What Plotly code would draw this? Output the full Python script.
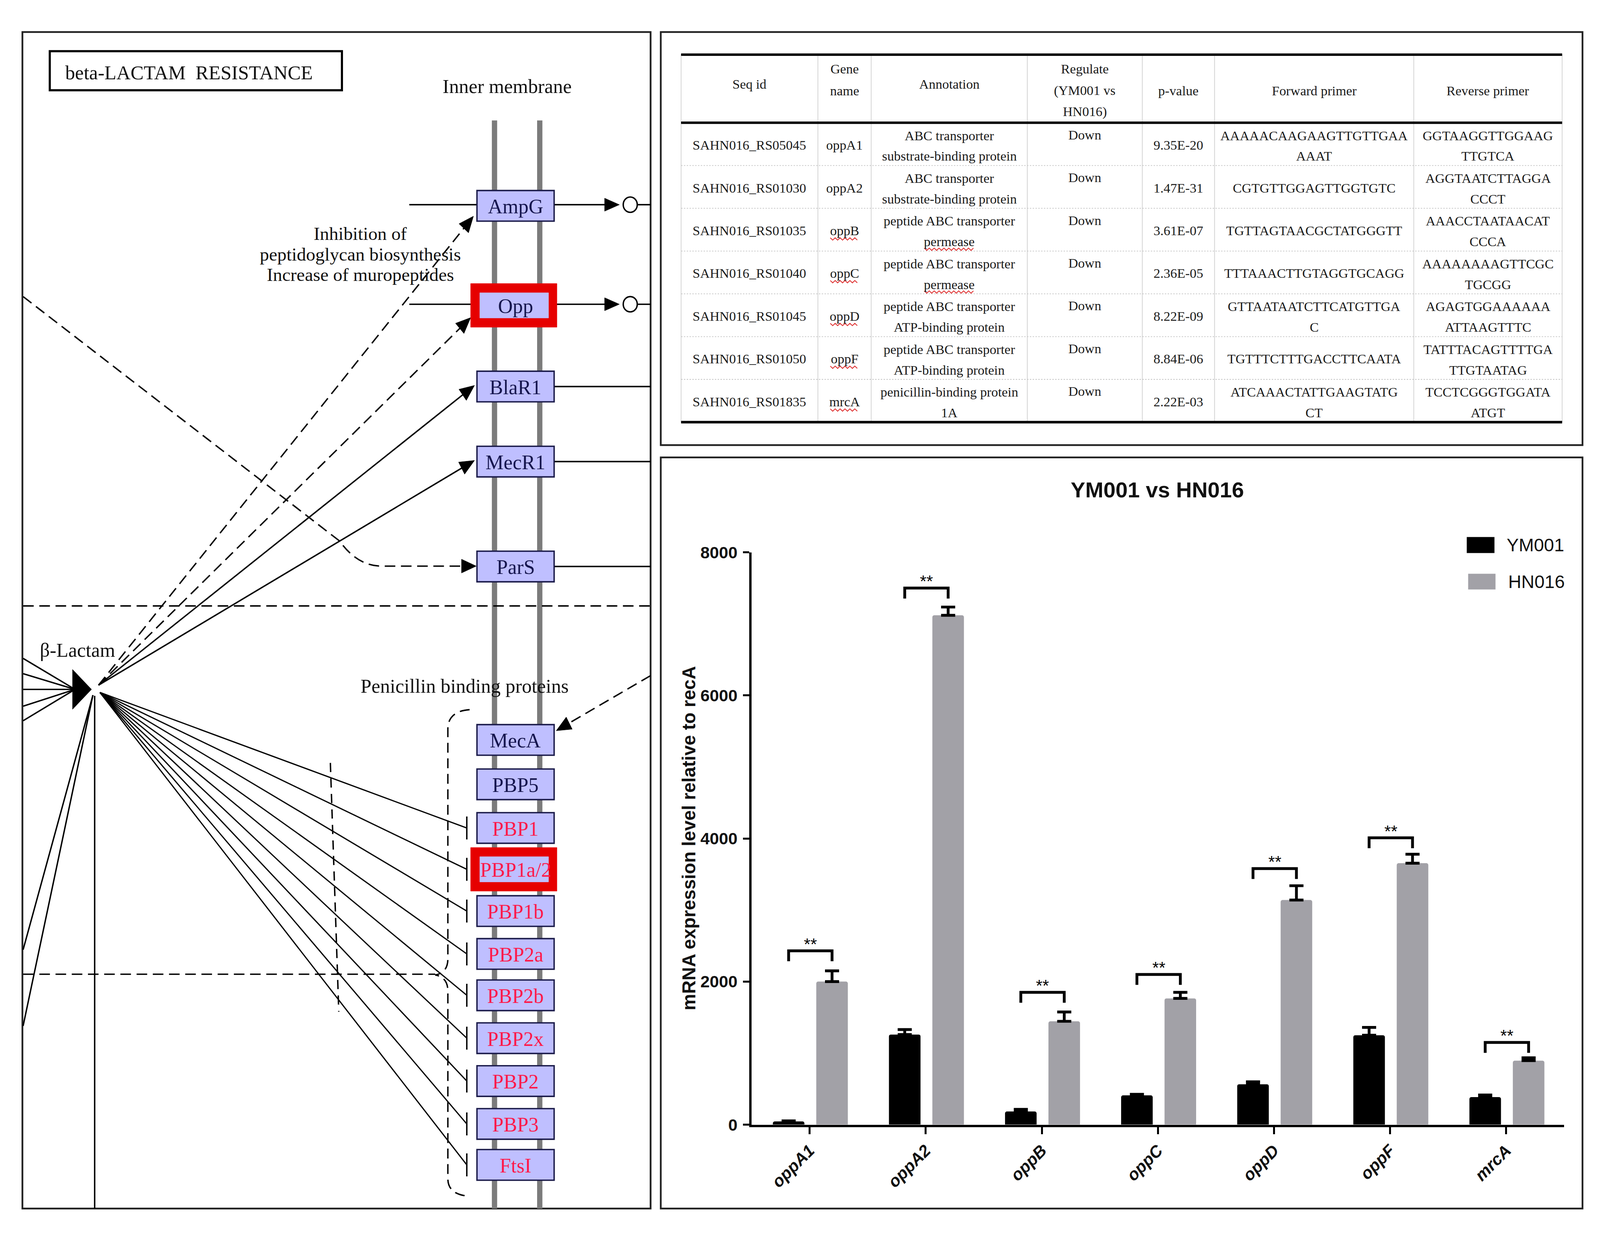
import math
import plotly.graph_objects as go

# reference pixel space (all geometry below is expressed in it)
W, H = 4544, 3184
# the figure fills the photographed viewport (about 4100 CSS px wide);
# line widths and text sizes are scaled to it
S = 4099 / W
ST = 0.93

# ---------------- bar chart data ----------------
genes = ["oppA1", "oppA2", "oppB", "oppC", "oppD", "oppF", "mrcA"]
ym001 = [45, 1260, 185, 410, 565, 1250, 385]
ym001_err = [8, 70, 30, 15, 35, 110, 30]
hn016 = [2000, 7120, 1445, 1765, 3140, 3655, 895]
hn016_err = [150, 115, 130, 85, 200, 125, 40]
sig_y = [2430, 7500, 1850, 2100, 3580, 4010, 1150]
sig_text = ["**", "**", "**", "**", "**", "**", "**"]
y_ticks = [0, 2000, 4000, 6000, 8000]
chart_title = "YM001 vs HN016"
y_title = "mRNA expression level relative to recA"
series_names = ["YM001", "HN016"]

# ---------------- table data ----------------
table_header = [["Seq id"], ["Gene", "name"], ["Annotation"],
                ["Regulate", "(YM001 vs", "HN016)"], ["p-value"],
                ["Forward primer"], ["Reverse primer"]]
seq_ids = ["SAHN016_RS05045", "SAHN016_RS01030", "SAHN016_RS01035",
           "SAHN016_RS01040", "SAHN016_RS01045", "SAHN016_RS01050",
           "SAHN016_RS01835"]
gene_names = ["oppA1", "oppA2", "oppB", "oppC", "oppD", "oppF", "mrcA"]
annotation_txt = [["ABC transporter", "substrate-binding protein"],
                  ["ABC transporter", "substrate-binding protein"],
                  ["peptide ABC transporter", "permease"],
                  ["peptide ABC transporter", "permease"],
                  ["peptide ABC transporter", "ATP-binding protein"],
                  ["peptide ABC transporter", "ATP-binding protein"],
                  ["penicillin-binding protein", "1A"]]
regulate = ["Down"] * 7
p_values = ["9.35E-20", "1.47E-31", "3.61E-07", "2.36E-05", "8.22E-09",
            "8.84E-06", "2.22E-03"]
fwd_primer = [["AAAAACAAGAAGTTGTTGAA", "AAAT"], ["CGTGTTGGAGTTGGTGTC"],
              ["TGTTAGTAACGCTATGGGTT"], ["TTTAAACTTGTAGGTGCAGG"],
              ["GTTAATAATCTTCATGTTGA", "C"], ["TGTTTCTTTGACCTTCAATA"],
              ["ATCAAACTATTGAAGTATG", "CT"]]
rev_primer = [["GGTAAGGTTGGAAG", "TTGTCA"], ["AGGTAATCTTAGGA", "CCCT"],
              ["AAACCTAATAACAT", "CCCA"], ["AAAAAAAAGTTCGC", "TGCGG"],
              ["AGAGTGGAAAAAA", "ATTAAGTTTC"], ["TATTTACAGTTTTGA", "TTGTAATAG"],
              ["TCCTCGGGTGGATA", "ATGT"]]
spell_flag_gene = [False, False, True, True, True, True, True]
spell_flag_annot = [False, False, True, True, False, False, False]

# ---------------- KEGG pathway labels ----------------
map_title = "beta-LACTAM  RESISTANCE"
membrane_label = "Inner membrane"
upper_nodes = ["AmpG", "Opp", "BlaR1", "MecR1", "ParS"]
pbp_nodes = ["MecA", "PBP5", "PBP1", "PBP1a/2", "PBP1b", "PBP2a", "PBP2b",
             "PBP2x", "PBP2", "PBP3", "FtsI"]
pbp_red = [False, False, True, True, True, True, True, True, True, True, True]
highlighted = ["Opp", "PBP1a/2"]
effect_lines = ["Inhibition of", "peptidoglycan biosynthesis",
                "Increase of muropeptides"]
compound = "\u03b2-Lactam"
pbp_group = "Penicillin binding proteins"

# ---------------- helpers (coordinates in reference pixels) ----------------
SERIF = "Liberation Serif"
SANS = "Liberation Sans"
shapes = []
annos = []


def px(v):
    return v * S


def pxd(a, b):
    return f"{a * S:.1f}px,{b * S:.1f}px"


def line(x0, y0, x1, y1, w=4, color="black", dash=None):
    d = dict(type="line", xref="x", yref="y", x0=x0, y0=y0, x1=x1, y1=y1,
             line=dict(color=color, width=px(w)))
    if dash:
        d["line"]["dash"] = dash
    shapes.append(d)


def rect(x0, y0, x1, y1, fill="rgba(0,0,0,0)", lc="black", lw=4):
    shapes.append(dict(type="rect", xref="x", yref="y", x0=x0, y0=y0, x1=x1,
                       y1=y1, fillcolor=fill, line=dict(color=lc, width=px(lw))))


def path(p, w=4, color="black", dash=None, fill=None, xref="x", yref="y"):
    d = dict(type="path", xref=xref, yref=yref, path=p,
             line=dict(color=color, width=px(w)))
    if dash:
        d["line"]["dash"] = dash
    if fill:
        d["fillcolor"] = fill
    shapes.append(d)


def circle(cx, cy, r, w=4):
    shapes.append(dict(type="circle", xref="x", yref="y", x0=cx - r, y0=cy - r,
                       x1=cx + r, y1=cy + r, fillcolor="white",
                       line=dict(color="black", width=px(w))))


def text(x, y, s, size, color="#111111", family=SERIF, xanchor="center",
         angle=0, weight="normal", style="normal", xref="x", yref="y",
         yanchor="middle", yshift=0):
    annos.append(dict(x=x, y=y, xref=xref, yref=yref, text=s, showarrow=False,
                      xanchor=xanchor, yanchor=yanchor, textangle=angle,
                      yshift=px(yshift), borderpad=0,
                      font=dict(size=size * ST, color=color, family=family,
                                weight=weight, style=style)))


def arrowhead(tx, ty, fx, fy, L=42, hw=18):
    dx, dy = tx - fx, ty - fy
    n = math.hypot(dx, dy)
    ux, uy = dx / n, dy / n
    bx, by = tx - ux * L, ty - uy * L
    qx, qy = -uy * hw, ux * hw
    path(f"M {tx:.1f},{ty:.1f} L {bx + qx:.1f},{by + qy:.1f} "
         f"L {bx - qx:.1f},{by - qy:.1f} Z", w=1, fill="black")


def zigzag(x0, x1, y, amp=3, step=7):
    pts = []
    x = x0
    up = True
    while x <= x1:
        pts.append((x, y - amp if up else y + amp))
        x += step
        up = not up
    path("M " + " L ".join(f"{a:.1f},{b:.1f}" for a, b in pts), w=2.5,
         color="#e03a3a")


DASH = pxd(30, 16)

# ---------------- panel borders ----------------
rect(55, 51, 1846, 3124, lc="#222222", lw=5)
rect(1875, 51, 4503, 1130, lc="#222222", lw=5)
rect(1875, 1162, 4503, 3124, lc="#222222", lw=5)

# ---------------- KEGG diagram ----------------
rect(133, 101, 966, 203, lc="black", lw=6)
text(530, 157, map_title, 54)
text(1437, 193, membrane_label, 54)

for mx in (1401, 1530):
    line(mx, 282, mx, 3124, w=15, color="#7b7b7b")

BX0, BX1, BH = 1351, 1571, 80
upper_y = [505, 765, 977, 1173, 1447]
pbp_y = [1900, 2016, 2130, 2238, 2347, 2459, 2567, 2679, 2791, 2903, 3010]

# beta-lactam node
for yy in (1687, 1727, 1768, 1812, 1850):
    line(57, yy, 205, 1768, w=4)
path("M 198,1716 L 252,1768 L 198,1820 Z", w=1, fill="black")
line(57, 2448, 256, 1783, w=4)
line(57, 2647, 256, 1783, w=4)
line(261, 1785, 261, 3124, w=4)
text(212, 1665, compound, 54)

# horizontal dashed lines
line(57, 1550, 1846, 1550, w=4, dash=DASH)
line(57, 2512, 1232, 2512, w=4, dash=DASH)

# dashed line to ParS
path("M 57,742 L 960,1381 Q 1010,1446 1080,1446 L 1310,1446", w=4, dash=DASH)
arrowhead(1349, 1446, 1200, 1446)

# lines from beta-lactam to receptors
tips = {"AmpG": (1341, 532, DASH), "Opp": (1333, 797, DASH),
        "BlaR1": (1344, 974, None), "MecR1": (1344, 1170, None)}
sx, sy = 272, 1757
for nm in ["AmpG", "Opp", "BlaR1", "MecR1"]:
    tx, ty, ds = tips[nm]
    dx, dy = tx - sx, ty - sy
    n = math.hypot(dx, dy)
    ex, ey = tx - dx / n * 38, ty - dy / n * 38
    line(sx, sy, ex, ey, w=4, dash=ds)
    arrowhead(tx, ty, sx, sy)

# receptor side lines
for nm, yy in zip(upper_nodes, upper_y):
    if nm in ("AmpG", "Opp"):
        line(1158, yy - 3, BX0, yy - 3, w=4)
        line(BX1, yy - 3, 1718, yy - 3, w=4)
        arrowhead(1757, yy - 3, 1600, yy - 3, L=42, hw=17)
        circle(1788, yy - 3, 20, w=4)
        line(1809, yy - 3, 1846, yy - 3, w=4)
    else:
        line(BX1, yy, 1846, yy, w=4)

# inhibition lines to PBPs
for nm, yy in zip(pbp_nodes, pbp_y):
    if nm in ("MecA", "PBP5"):
        continue
    line(276, 1776, 1322, yy, w=3.5)
    line(1322, yy - 30, 1322, yy + 30, w=4)

# crossing dashed line
line(933, 1960, 957, 2610, w=4, dash=pxd(26, 18))

# brace
path("M 1330,1821 Q 1268,1825 1268,1872 L 1268,2472 Q 1268,2508 1232,2514 "
     "Q 1268,2520 1268,2556 L 1268,3046 Q 1268,3088 1330,3092",
     w=4, dash=pxd(28, 16))

# dashed arrow to MecA
line(1846, 1732, 1612, 1857, w=4, dash=DASH)
arrowhead(1577, 1876, 1846, 1732)

text(1316, 1759, pbp_group, 54)
for s, yy in zip(effect_lines, [578, 632, 685]):
    text(1018, yy, s, 51)


def node(nm, yc, red_text=False):
    if nm in highlighted:
        rect(1333, yc - 57, 1579, yc + 57, fill="#e60000", lc="#e60000", lw=1)
        rect(1359, yc - 33, 1555, yc + 33, fill="#bfbfff", lc="#bfbfff", lw=1)
    else:
        rect(BX0, yc - BH / 2, BX1, yc + BH / 2, fill="#bfbfff", lc="#1b1b4a",
             lw=4)
    text((BX0 + BX1) / 2, yc + 2, nm, 56,
         color="#ff1a4a" if red_text else "#16164e")


for nm, yy in zip(upper_nodes, upper_y):
    node(nm, yy)
for nm, yy, rd in zip(pbp_nodes, pbp_y, pbp_red):
    node(nm, yy, rd)

# ---------------- table ----------------
col_x = [1933, 2323, 2475, 2920, 3248, 3454, 4022, 4445]
col_c = [(col_x[i] + col_x[i + 1]) / 2 for i in range(7)]
T_TOP, T_HEAD, T_BOT = 110, 288, 1070
row_h = (T_BOT - T_HEAD) / 7
TFS = 37
TCOL = "#1a1a1a"

for xx in col_x:
    line(xx, T_TOP, xx, T_BOT, w=2, color="#d0d0d0")
for i in range(1, 7):
    yy = T_HEAD + i * row_h
    line(col_x[0], yy, col_x[-1], yy, w=2, color="#c4c4c4", dash=pxd(4, 4))
line(col_x[0], T_TOP, col_x[-1], T_TOP, w=7)
line(col_x[0], T_HEAD, col_x[-1], T_HEAD, w=7)
line(col_x[0], T_BOT, col_x[-1], T_BOT, w=7)

head_y = {1: [187], 2: [147, 204], 3: [147, 204, 259]}
for j, hdr in enumerate(table_header):
    ys = head_y[len(hdr)] if j not in (4, 5, 6) else [204]
    for s, yy in zip(hdr, ys):
        text(col_c[j], yy, s, TFS, color=TCOL)


def cell(j, r, lines_):
    R = T_HEAD + r * row_h
    if len(lines_) == 1:
        text(col_c[j], R + 58, lines_[0], TFS, color=TCOL)
    else:
        text(col_c[j], R + 33, lines_[0], TFS, color=TCOL)
        text(col_c[j], R + 87, lines_[1], TFS, color=TCOL)


for r in range(7):
    R = T_HEAD + r * row_h
    cell(0, r, [seq_ids[r]])
    cell(1, r, [gene_names[r]])
    cell(2, r, annotation_txt[r])
    text(col_c[3], R + 31, regulate[r], TFS, color=TCOL)
    cell(4, r, [p_values[r]])
    cell(5, r, fwd_primer[r])
    cell(6, r, rev_primer[r])
    if spell_flag_gene[r]:
        wdt = len(gene_names[r]) * 0.55 * TFS
        zigzag(col_c[1] - wdt / 2, col_c[1] + wdt / 2, R + 80)
    if spell_flag_annot[r]:
        wdt = len(annotation_txt[r][1]) * 0.48 * TFS
        zigzag(col_c[2] - wdt / 2, col_c[2] + wdt / 2, R + 107)

# ---------------- bar chart ----------------
AX_L, AX_R, AX_Y0, AX_Y8 = 2134, 4451, 2905, 1410
BAR_W = 0.272
OFF_A, OFF_B = -0.317, 0.057
GRAY = "#a2a1a7"

fig = go.Figure()
fig.add_trace(go.Scatter(x=[0], y=[0], xaxis="x", yaxis="y", mode="markers",
                         marker=dict(opacity=0), hoverinfo="skip",
                         showlegend=False))
fig.add_trace(go.Bar(x=genes, y=ym001, name=series_names[0], xaxis="x2",
                     yaxis="y2", width=BAR_W, offset=OFF_A,
                     marker=dict(color="#000000", line=dict(width=0),
                                 cornerradius=px(6)),
                     error_y=dict(type="data", array=ym001_err, symmetric=False,
                                  arrayminus=[0] * 7, color="black",
                                  thickness=px(8), width=px(20))))
fig.add_trace(go.Bar(x=genes, y=hn016, name=series_names[1], xaxis="x2",
                     yaxis="y2", width=BAR_W, offset=OFF_B,
                     marker=dict(color=GRAY, line=dict(width=0),
                                 cornerradius=px(6)),
                     error_y=dict(type="data", array=hn016_err, symmetric=False,
                                  arrayminus=[0] * 7, color="black",
                                  thickness=px(8), width=px(20))))

leg = 146
for i, (yb, st) in enumerate(zip(sig_y, sig_text)):
    xa = i + OFF_A + BAR_W / 2
    xb = i + OFF_B + BAR_W / 2
    path(f"M {xa},{yb - leg} L {xa},{yb} L {xb},{yb} L {xb},{yb - leg}",
         w=8, xref="x2", yref="y2")
    text((xa + xb) / 2, yb, st, 46, color="black", family=SANS, xref="x2",
         yref="y2", yanchor="bottom", yshift=-8)

text(3291, 1247, chart_title, 60, color="#111111", family=SANS, weight="bold")
text(1955, 2157, y_title, 51, color="#111111", family=SANS, weight="bold",
     angle=-90)

# legend (drawn)
shapes.append(dict(type="rect", xref="x", yref="y", x0=4173, y0=1370, x1=4252,
                   y1=1412, fillcolor="black", line=dict(width=0)))
shapes.append(dict(type="rect", xref="x", yref="y", x0=4177, y0=1466, x1=4255,
                   y1=1507, fillcolor=GRAY, line=dict(width=0)))
text(4286, 1391, series_names[0], 50, color="#111111", family=SANS,
     xanchor="left")
text(4290, 1487, series_names[1], 50, color="#111111", family=SANS,
     xanchor="left")

fig.update_layout(
    autosize=True, margin=dict(l=0, r=0, t=0, b=0, pad=0),
    paper_bgcolor="white", plot_bgcolor="white", showlegend=False,
    barmode="overlay",
    xaxis=dict(domain=[0, 1], range=[0, W], visible=False, fixedrange=True),
    yaxis=dict(domain=[0, 1], range=[H, 0], visible=False, fixedrange=True),
    xaxis2=dict(domain=[AX_L / W, AX_R / W], anchor="y2", type="category",
                range=[-0.5, 6.5], showline=True, linecolor="black",
                linewidth=px(7), ticks="outside", ticklen=px(20),
                tickwidth=px(6), tickcolor="black", tickangle=-45,
                showgrid=False, zeroline=False,
                tickfont=dict(family=SANS, size=46 * ST, color="#111111",
                              weight="bold", style="italic")),
    yaxis2=dict(domain=[(H - AX_Y0) / H, (H - AX_Y8) / H], anchor="x2",
                range=[0, 8000], tickvals=y_ticks, showline=True,
                linecolor="black", linewidth=px(7), ticks="outside",
                ticklen=px(18), tickwidth=px(6), tickcolor="black",
                showgrid=False, zeroline=False,
                ticklabelstandoff=int(round(px(6))),
                tickfont=dict(family=SANS, size=46 * ST, color="#111111",
                              weight="bold")),
    shapes=shapes, annotations=annos,
)

fig.write_html("out.html", default_width="100%",
               default_height="calc(100vh - 16px)")
